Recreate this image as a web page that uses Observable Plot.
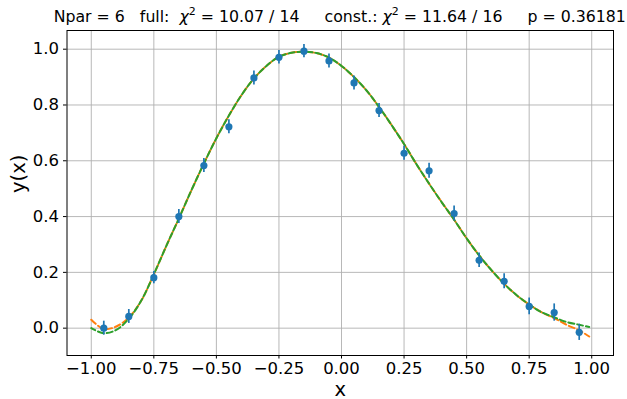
<!DOCTYPE html>
<html>
<head>
<meta charset="utf-8">
<script src="https://cdn.jsdelivr.net/npm/d3@7"></script>
<script src="https://cdn.jsdelivr.net/npm/@observablehq/plot@0.6"></script>
<style>
  html, body { margin: 0; padding: 0; background: #fff; }
  #chart svg { display: block; }
</style>
</head>
<body>
<div id="chart"></div>
<script>
// ---- data ----
const xPts = [-0.95, -0.85, -0.75, -0.65, -0.55, -0.45, -0.35, -0.25, -0.15, -0.05,
              0.05, 0.15, 0.25, 0.35, 0.45, 0.55, 0.65, 0.75, 0.85, 0.95];
const yPts = [0.000, 0.042, 0.181, 0.400, 0.583, 0.722, 0.897, 0.971, 0.993, 0.958,
              0.879, 0.780, 0.627, 0.564, 0.411, 0.243, 0.168, 0.078, 0.056, -0.015];
const yErr = [0.025, 0.025, 0.022, 0.025, 0.025, 0.025, 0.025, 0.024, 0.024, 0.025,
              0.025, 0.025, 0.025, 0.027, 0.027, 0.026, 0.027, 0.030, 0.031, 0.029];

const xCurve = [-1.00, -0.95, -0.90, -0.85, -0.80, -0.75, -0.70, -0.65, -0.60, -0.55,
                -0.50, -0.45, -0.40, -0.35, -0.30, -0.25, -0.20, -0.15, -0.10, -0.05,
                0.00, 0.05, 0.10, 0.15, 0.20, 0.25, 0.30, 0.35, 0.40, 0.45,
                0.50, 0.55, 0.60, 0.65, 0.70, 0.75, 0.80, 0.85, 0.90, 0.95, 0.99];
const yFull = [0.030, -0.003, 0.006, 0.038, 0.099, 0.193, 0.295, 0.393, 0.494, 0.590,
               0.681, 0.762, 0.835, 0.895, 0.940, 0.973, 0.987, 0.991, 0.986, 0.970,
               0.940, 0.900, 0.852, 0.793, 0.728, 0.660, 0.587, 0.518, 0.452, 0.389,
               0.322, 0.261, 0.207, 0.159, 0.118, 0.085, 0.057, 0.036, 0.012, -0.008, -0.030];
const yConst = [0.000, -0.018, -0.006, 0.034, 0.099, 0.193, 0.295, 0.393, 0.494, 0.590,
                0.681, 0.762, 0.835, 0.895, 0.940, 0.973, 0.987, 0.991, 0.986, 0.970,
                0.940, 0.900, 0.852, 0.793, 0.728, 0.660, 0.587, 0.518, 0.452, 0.389,
                0.322, 0.261, 0.207, 0.159, 0.118, 0.085, 0.057, 0.039, 0.022, 0.012, 0.004];

const xTicks = [-1, -0.75, -0.5, -0.25, 0, 0.25, 0.5, 0.75, 1];
const xTickLabels = ["\u22121.00", "\u22120.75", "\u22120.50", "\u22120.25", "0.00", "0.25", "0.50", "0.75", "1.00"];
const yTicks = [0, 0.2, 0.4, 0.6, 0.8, 1.0];
const yTickLabels = ["0.0", "0.2", "0.4", "0.6", "0.8", "1.0"];

const titleParts = {
  npar: "Npar = 6   full:  ",
  full: " = 10.07 / 14     const.: ",
  cons: " = 11.64 / 16     p = 0.36181"
};
const xLabel = "x";
const yLabel = "y(x)";

// ---- tables ----
const pts = xPts.map((x, i) => ({x, y: yPts[i], lo: yPts[i] - yErr[i], hi: yPts[i] + yErr[i]}));
const fullCurve = xCurve.map((x, i) => ({x, y: yFull[i]}));
const constCurve = xCurve.map((x, i) => ({x, y: yConst[i]}));

const W = 627, H = 399;
const font = "DejaVu Sans";

const chart = Plot.plot({
  width: W,
  height: H,
  marginLeft: 66.5,
  marginRight: 14,
  marginTop: 30,
  marginBottom: 44,
  style: {fontFamily: font, background: "#fff", color: "#000"},
  x: {domain: [-1.097, 1.087], ticks: xTicks},
  y: {domain: [-0.098, 1.067], ticks: yTicks},
  marks: [
    Plot.gridX(xTicks, {stroke: "#b0b0b0", strokeOpacity: 1, strokeWidth: 0.9}),
    Plot.gridY(yTicks, {stroke: "#b0b0b0", strokeOpacity: 1, strokeWidth: 0.9}),
    Plot.axisX(xTicks, {tickSize: 3.5, tickPadding: 3.5, fontSize: 16.5, label: null,
      tickFormat: (d) => xTickLabels[xTicks.indexOf(d)]}),
    Plot.axisY(yTicks, {tickSize: 3.5, tickPadding: 4.5, fontSize: 16.5, label: null,
      tickFormat: (d) => yTickLabels[yTicks.indexOf(d)]}),
    Plot.line(fullCurve, {x: "x", y: "y", stroke: "#ff7f0e", strokeWidth: 2,
      strokeDasharray: "6,3", curve: "catmull-rom"}),
    Plot.line(constCurve, {x: "x", y: "y", stroke: "#2ca02c", strokeWidth: 2,
      strokeDasharray: "6,3", strokeDashoffset: 1.5, curve: "catmull-rom"}),
    Plot.ruleX(pts, {x: "x", y1: "lo", y2: "hi", stroke: "#1f77b4", strokeWidth: 1.7}),
    Plot.dot(pts, {x: "x", y: "y", r: 3.6, fill: "#1f77b4", stroke: "none"}),
    Plot.frame({stroke: "#000", strokeWidth: 1}),
    Plot.text([xLabel], {frameAnchor: "bottom", dy: 34, text: (d) => d, fontSize: 19.5, lineAnchor: "middle"}),
    Plot.text([yLabel], {frameAnchor: "left", dx: -48, rotate: -90, text: (d) => d, fontSize: 19.5, lineAnchor: "middle"})
  ]
});

// Title with mathtext-like chi-squared
const svg = d3.select(chart);
const t = svg.append("text")
  .attr("x", (66.5 + (W - 14)) / 2)
  .attr("y", 22)
  .attr("text-anchor", "middle")
  .attr("font-family", font)
  .attr("font-size", 15.75)
  .attr("fill", "#000")
  .style("white-space", "pre")
  .attr("xml:space", "preserve");
t.append("tspan").text(titleParts.npar);
t.append("tspan").attr("font-style", "italic").text("\u03c7");
t.append("tspan").attr("font-size", 11).attr("dy", -7).text("2");
t.append("tspan").attr("dy", 7).text(titleParts.full);
t.append("tspan").attr("font-style", "italic").text("\u03c7");
t.append("tspan").attr("font-size", 11).attr("dy", -7).text("2");
t.append("tspan").attr("dy", 7).text(titleParts.cons);

document.getElementById("chart").appendChild(chart);
</script>
</body>
</html>
